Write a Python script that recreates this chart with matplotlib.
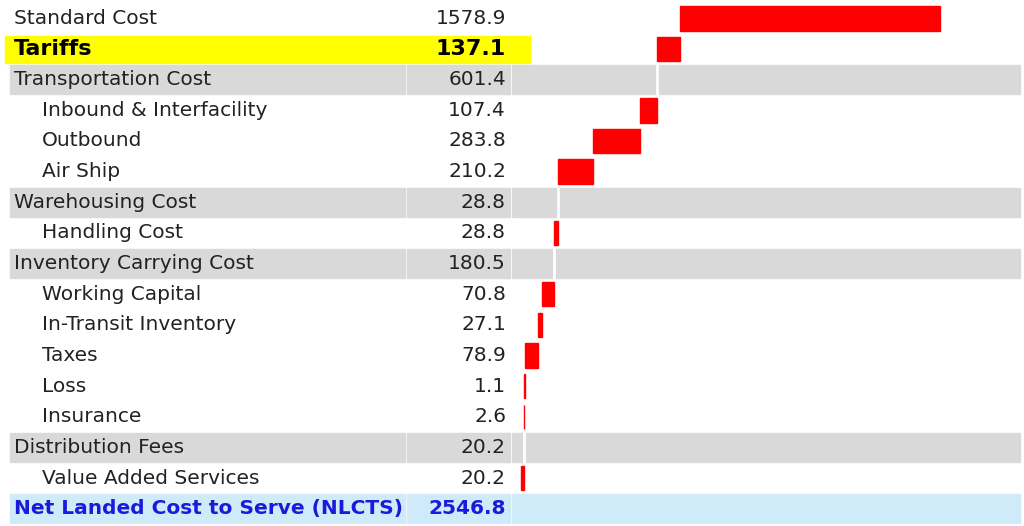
import matplotlib
matplotlib.use("Agg")
import matplotlib.pyplot as plt
from matplotlib.patches import Rectangle

labels = ["Standard Cost", "Tariffs", "Transportation Cost", "Inbound & Interfacility",
          "Outbound", "Air Ship", "Warehousing Cost", "Handling Cost",
          "Inventory Carrying Cost", "Working Capital", "In-Transit Inventory", "Taxes",
          "Loss", "Insurance", "Distribution Fees", "Value Added Services",
          "Net Landed Cost to Serve (NLCTS)"]
values = [1578.9, 137.1, 601.4, 107.4, 283.8, 210.2, 28.8, 28.8, 180.5, 70.8, 27.1,
          78.9, 1.1, 2.6, 20.2, 20.2, 2546.8]
kinds = ["top", "hl", "sub", "det", "det", "det", "sub", "det", "sub", "det", "det",
         "det", "det", "det", "sub", "det", "total"]

W, H = 1024, 526
fig = plt.figure(figsize=(W/100, H/100), dpi=100)
tab = fig.add_axes([0, 0, 1, 1])
tab.set_xlim(0, W); tab.set_ylim(H, 0); tab.axis("off")

y0, rh = 3, 30.65
n = len(labels)
bax = fig.add_axes([512/W, 1-(y0+n*rh)/H, (W-512)/W, n*rh/H])
bax.set_xlim(2599, -510)
bax.set_ylim(n-0.5, -0.5)
bax.axis("off")

font = "DejaVu Sans"
cum = 0.0
for i, (lab, v, k) in enumerate(zip(labels, values, kinds)):
    top = y0 + i*rh
    cy = top + rh/2
    if k == "sub":
        tab.add_patch(Rectangle((10, top+1), 395, rh-2, color="#d9d9d9", zorder=0))
        tab.add_patch(Rectangle((407, top+1), 103, rh-2, color="#d9d9d9", zorder=0))
        bax.axhspan(i-0.5+1/rh, i+0.5-1/rh, xmin=0, xmax=508/512, color="#d9d9d9", zorder=0)
        bax.plot([cum, cum], [i-0.5, i+0.5], color="white", lw=2, zorder=1)
    elif k == "hl":
        tab.add_patch(Rectangle((5, top+2), 525, rh-3, color="#ffff00", zorder=0))
    elif k == "total":
        tab.add_patch(Rectangle((10, top+1), 395, rh-2, color="#cfeaf9", zorder=0))
        tab.add_patch(Rectangle((407, top+1), 103, rh-2, color="#cfeaf9", zorder=0))
        tab.add_patch(Rectangle((512, top+1), 508, rh-2, color="#cfeaf9", zorder=0))
    if k in ("top", "hl", "det"):
        bax.barh(i, v, left=cum, height=0.8, color="#ff0000", edgecolor="#ff0000",
                 linewidth=1.0, zorder=2)
        cum += v
    x = 42 if k == "det" else 14
    bold = k in ("hl", "total")
    if k == "total":
        col = "#1a1adb"
    elif bold:
        col = "black"
    else:
        col = "#222222"
    fs = 16 if k == "hl" else 14.5
    tab.text(x, cy, lab, ha="left", va="center", fontsize=fs, family=font,
             fontweight="bold" if bold else "normal", color=col)
    tab.text(506, cy, f"{v:.1f}", ha="right", va="center", fontsize=fs, family=font,
             fontweight="bold" if bold else "normal", color=col)

fig.savefig("out.png", dpi=100)
